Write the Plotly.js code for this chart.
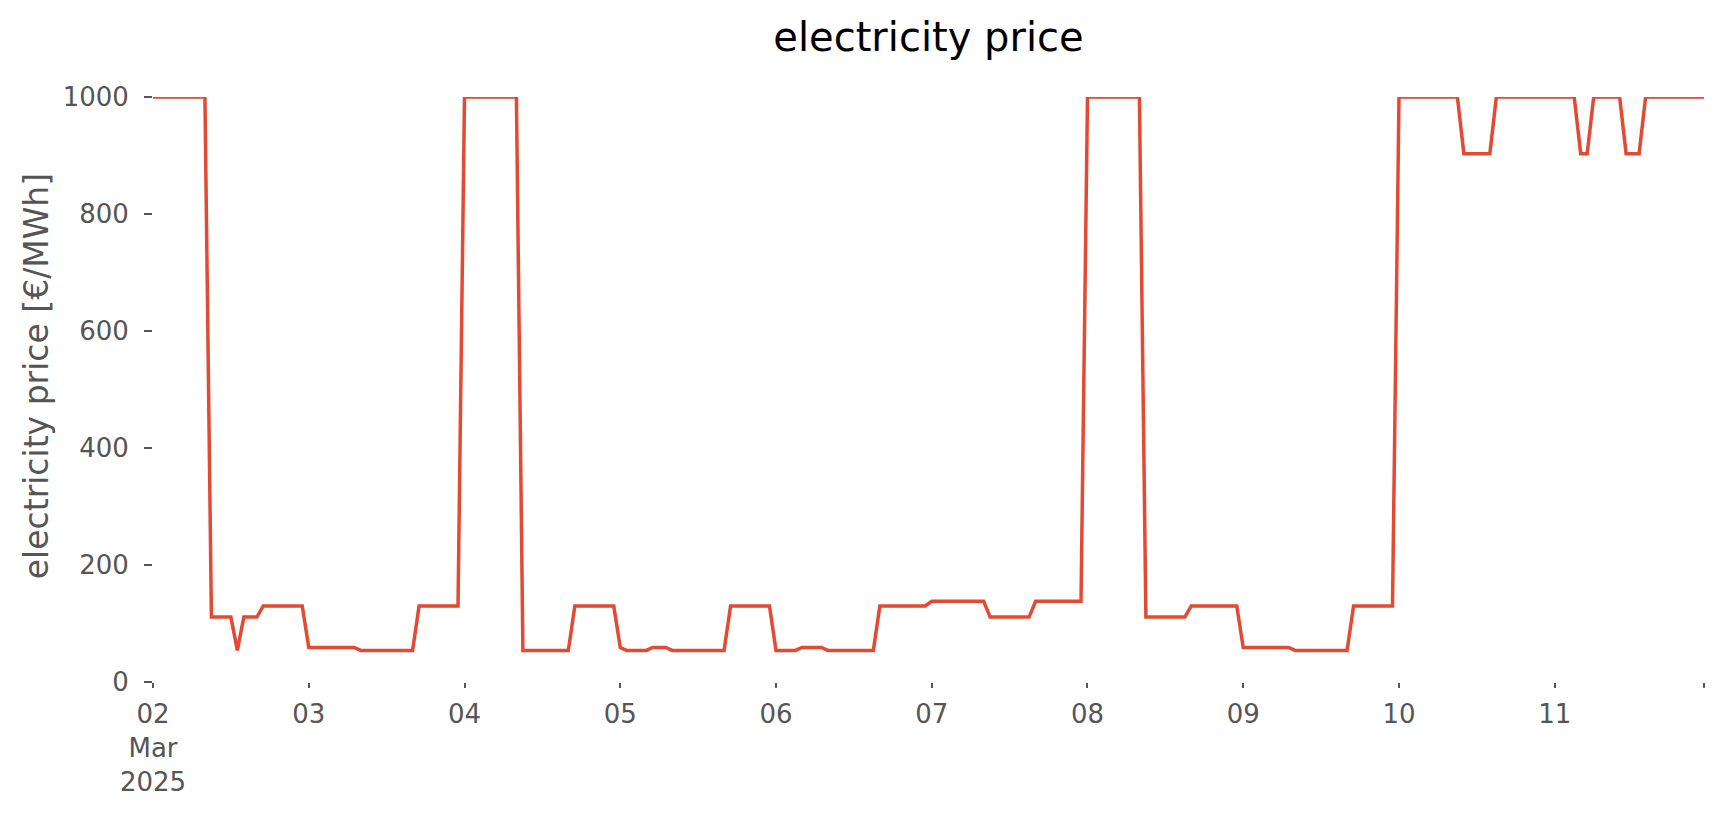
<!DOCTYPE html>
<html>
<head>
<meta charset="utf-8">
<script src="https://cdn.plot.ly/plotly-3.0.1.min.js"></script>
<style>
  html, body { margin: 0; padding: 0; background: #ffffff; }
  #chart { width: 1724px; height: 815px; }
</style>
</head>
<body>
<div id="chart"></div>
<script>
// Hourly electricity price, 02 Mar 2025 00:00 – 11 Mar 2025 23:00.
// Each constant block is given by its first and last hourly point.
const times = [
  "2025-03-02 00:00", "2025-03-02 08:00",
  "2025-03-02 09:00", "2025-03-02 12:00",
  "2025-03-02 13:00",
  "2025-03-02 14:00", "2025-03-02 16:00",
  "2025-03-02 17:00", "2025-03-02 23:00",
  "2025-03-03 00:00", "2025-03-03 07:00",
  "2025-03-03 08:00", "2025-03-03 16:00",
  "2025-03-03 17:00", "2025-03-03 23:00",
  "2025-03-04 00:00", "2025-03-04 08:00",
  "2025-03-04 09:00", "2025-03-04 16:00",
  "2025-03-04 17:00", "2025-03-04 23:00",
  "2025-03-05 00:00",
  "2025-03-05 01:00", "2025-03-05 04:00",
  "2025-03-05 05:00", "2025-03-05 07:00",
  "2025-03-05 08:00", "2025-03-05 16:00",
  "2025-03-05 17:00", "2025-03-05 23:00",
  "2025-03-06 00:00", "2025-03-06 03:00",
  "2025-03-06 04:00", "2025-03-06 07:00",
  "2025-03-06 08:00", "2025-03-06 15:00",
  "2025-03-06 16:00", "2025-03-06 23:00",
  "2025-03-07 00:00", "2025-03-07 08:00",
  "2025-03-07 09:00", "2025-03-07 15:00",
  "2025-03-07 16:00", "2025-03-07 23:00",
  "2025-03-08 00:00", "2025-03-08 08:00",
  "2025-03-08 09:00", "2025-03-08 15:00",
  "2025-03-08 16:00", "2025-03-08 23:00",
  "2025-03-09 00:00", "2025-03-09 07:00",
  "2025-03-09 08:00", "2025-03-09 16:00",
  "2025-03-09 17:00", "2025-03-09 23:00",
  "2025-03-10 00:00", "2025-03-10 09:00",
  "2025-03-10 10:00", "2025-03-10 14:00",
  "2025-03-10 15:00", "2025-03-11 03:00",
  "2025-03-11 04:00", "2025-03-11 05:00",
  "2025-03-11 06:00", "2025-03-11 10:00",
  "2025-03-11 11:00", "2025-03-11 13:00",
  "2025-03-11 14:00", "2025-03-11 23:00"
];
const prices = [
  1000, 1000,
  111, 111,
  54,
  111, 111,
  130, 130,
  59, 59,
  54, 54,
  130, 130,
  1000, 1000,
  54, 54,
  130, 130,
  59,
  54, 54,
  59, 59,
  54, 54,
  130, 130,
  54, 54,
  59, 59,
  54, 54,
  130, 130,
  138, 138,
  111, 111,
  138, 138,
  1000, 1000,
  111, 111,
  130, 130,
  59, 59,
  54, 54,
  130, 130,
  1000, 1000,
  903, 903,
  1000, 1000,
  903, 903,
  1000, 1000,
  903, 903,
  1000, 1000
];

const xTickVals = [
  "2025-03-02 00:00", "2025-03-03 00:00", "2025-03-04 00:00", "2025-03-05 00:00",
  "2025-03-06 00:00", "2025-03-07 00:00", "2025-03-08 00:00", "2025-03-09 00:00",
  "2025-03-10 00:00", "2025-03-11 00:00", "2025-03-11 23:00"
];
const xTickText = ["02<br>Mar<br>2025", "03", "04", "05", "06", "07", "08", "09", "10", "11", ""];
const yTickVals = [0, 200, 400, 600, 800, 1000];
const yTickText = ["0", "200", "400", "600", "800", "1000"];
const yTitle = "electricity price [€/MWh]";
const chartTitle = "electricity price";

const trace = {
  x: times,
  y: prices,
  type: "scatter",
  mode: "lines",
  line: { color: "#E24A33", width: 3.5 },
  hoverinfo: "x+y"
};

const tickFont = { family: "DejaVu Sans", size: 26, color: "#555555" };

const layout = {
  width: 1724,
  height: 815,
  paper_bgcolor: "#ffffff",
  plot_bgcolor: "#ffffff",
  margin: { l: 153, r: 20, t: 97, b: 133, pad: 0 },
  showlegend: false,
  font: { family: "DejaVu Sans", color: "#555555" },
  title: {
    text: chartTitle,
    font: { family: "DejaVu Sans", size: 40, color: "#000000" },
    x: 0.5, xref: "paper", xanchor: "center",
    y: 0.9545, yref: "container", yanchor: "middle"
  },
  xaxis: {
    type: "date",
    range: ["2025-03-02 00:00", "2025-03-11 23:00"],
    tickmode: "array",
    tickvals: xTickVals,
    ticktext: xTickText,
    ticks: "outside",
    ticklen: 5,
    tickwidth: 2,
    tickcolor: "#555555",
    tickfont: tickFont,
    ticklabelstandoff: 4,
    showgrid: false,
    zeroline: false,
    showline: false,
    automargin: false
  },
  yaxis: {
    range: [0, 1000],
    tickmode: "array",
    tickvals: yTickVals,
    ticktext: yTickText,
    ticks: "outside",
    ticklen: 8,
    tickwidth: 2,
    tickcolor: "#555555",
    tickfont: tickFont,
    ticklabelstandoff: 10,
    showgrid: false,
    zeroline: false,
    showline: false,
    automargin: false
  },
  annotations: [{
    text: yTitle,
    textangle: -90,
    xref: "paper", x: 0, xshift: -117, xanchor: "center",
    yref: "paper", y: 0.5227, yanchor: "middle",
    showarrow: false,
    font: { family: "DejaVu Sans", size: 33, color: "#555555" }
  }]
};

Plotly.newPlot("chart", [trace], layout, { displayModeBar: false, staticPlot: true });
</script>
</body>
</html>
